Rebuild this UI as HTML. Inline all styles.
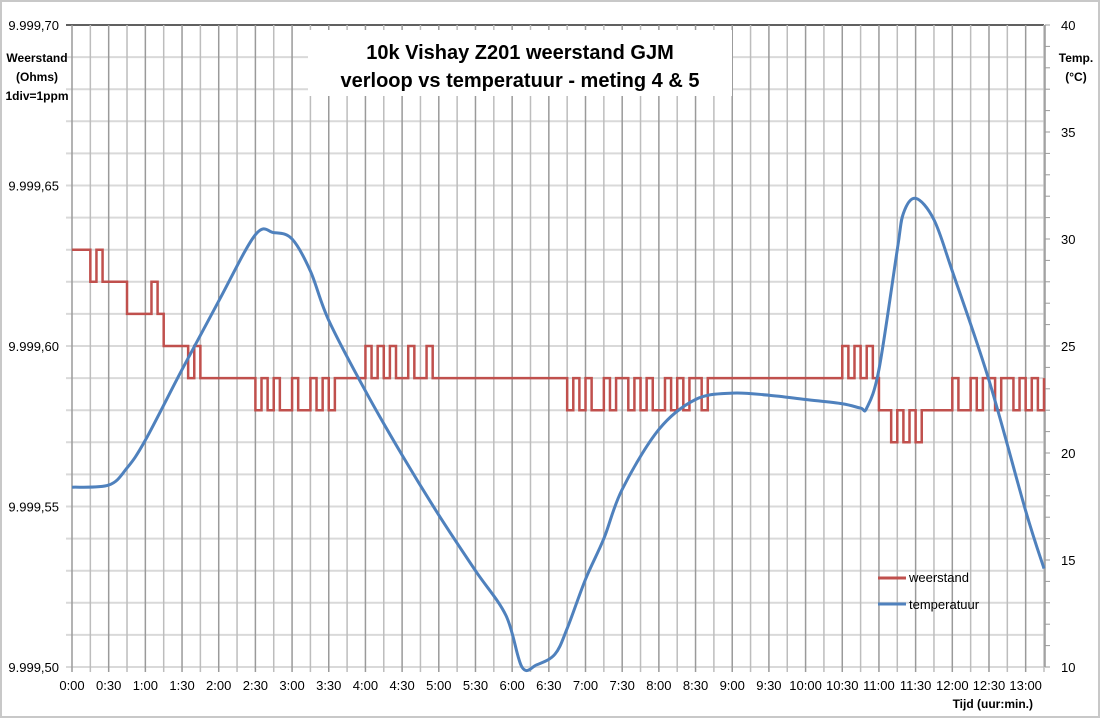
<!DOCTYPE html>
<html><head><meta charset="utf-8"><style>
body{margin:0;background:#fff;}
svg{display:block;font-family:"Liberation Sans",sans-serif;}
</style></head><body>
<svg id="chart" width="1100" height="718" viewBox="0 0 1100 718">
<rect x="1" y="1" width="1098" height="716" fill="#fff" stroke="#c8c8c8" stroke-width="2"/>
<g id="grid"></g>
<g id="axes"></g>
<g id="series"></g>
<rect x="308" y="30" width="424" height="66" fill="#fff"/>
<text x="520" y="59" text-anchor="middle" font-size="20" font-weight="bold">10k Vishay  Z201 weerstand GJM</text>
<text x="520" y="87" text-anchor="middle" font-size="20" font-weight="bold">verloop vs temperatuur  - meting 4 &amp; 5</text>
<g font-size="12" font-weight="bold" text-anchor="middle">
<text x="37" y="62">Weerstand</text><text x="37" y="81">(Ohms)</text><text x="37" y="100">1div=1ppm</text></g>
<g font-size="12" font-weight="bold" text-anchor="middle">
<text x="1076" y="62">Temp.</text><text x="1076" y="81">(°C)</text></g>
<text x="1033" y="708" text-anchor="end" font-size="12" font-weight="bold">Tijd (uur:min.)</text>
<g>
<line x1="878" y1="578" x2="906" y2="578" stroke="#c0504d" stroke-width="3"/>
<text x="909" y="582" font-size="13">weerstand</text>
<line x1="878" y1="604" x2="906" y2="604" stroke="#4f81bd" stroke-width="3"/>
<text x="909" y="609" font-size="13">temperatuur</text>
</g>
</svg>
<script>
// temperature series (minutes, °C)
const tempTimes=[0,30,45,60,90,120,150,165,180,195,210,240,270,300,330,355,368,380,395,405,420,435,450,480,510,540,570,600,630,645,650,660,675,680,690,705,720,750,780,795];
const tempValues=[18.4,18.5,19.3,20.6,23.9,27.1,30.2,30.3,30.0,28.5,26.2,22.9,19.9,17.1,14.5,12.4,10.0,10.1,10.6,11.8,14.1,16.0,18.3,21.1,22.5,22.8,22.7,22.5,22.3,22.1,22.1,23.9,29.5,31.2,31.9,30.9,28.5,23.4,17.3,14.6];
// resistance series: hundredths of ohm above 9.999,00 every 5 min from 0:00
const resStep=5;
const resValues=[63,63,63, 62,63,62, 62,62,62, 61,61,61,61,62,61, 60,60,60,60,59,60,
59,59,59,59,59,59,59,59,59,
58,59,58,59,58,58,59,58,58,59,58,59,58,59,
59,59,59,59,
60,59,60,59,60,59,59,60,59,59,60,59,
59,59,59,59,59,59,59,59,59,59,59,59,59,59,59,59,59,59,59,59,59,
58,59,58,59,58,58,59,58,59,59,58,59,58,59,58,58,59,58,59,58,59,59,58,59,
59,59,59,59,59,59,59,59,59,59,59,59,59,59,59,59,59,59,59,59,59,
60,59,60,59,60,59,
58,58,57,58,57,58,57,58,58,
58,58,58,59,58,58,59,58,59,
59,58,59,59,58,59,58,59,58,59];
const xTickLabels=["0:00","0:30","1:00","1:30","2:00","2:30","3:00","3:30","4:00","4:30","5:00","5:30","6:00","6:30","7:00","7:30","8:00","8:30","9:00","9:30","10:00","10:30","11:00","11:30","12:00","12:30","13:00"];
const leftTickLabels=["9.999,50","9.999,55","9.999,60","9.999,65","9.999,70"];
const rightTickLabels=["10","15","20","25","30","35","40"];

const NS="http://www.w3.org/2000/svg";
const X0=72,X1=1044,Y0=667,Y1=25,TMAX=795;
const xs=t=>X0+(X1-X0)*t/TMAX;
const yL=v=>Y0-(Y0-Y1)*(v-50)/20;
const yR=v=>Y0-(Y0-Y1)*(v-10)/30;
function mk(tag,attrs,parent,text){const e=document.createElementNS(NS,tag);for(const k in attrs)e.setAttribute(k,attrs[k]);if(text!==undefined)e.textContent=text;parent.appendChild(e);return e;}
const grid=document.getElementById('grid'),axes=document.getElementById('axes'),series=document.getElementById('series');
for(let i=0;i<=20;i++){const y=yL(50+i);
 const l=mk('line',{x1:X0-6,x2:X1,y1:y,y2:y,stroke:i==20?'#000':'#d9d9d9','stroke-width':i==20?1.3:2},grid);
 
 }
for(let t=15;t<=TMAX;t+=15){const x=xs(t);
 const l=mk('line',{x1:x,x2:x,y1:Y1,y2:Y0+5,stroke:(t%30==0)?'#9a9a9a':'#bdbdbd','stroke-width':1.5},grid);
 
 }
let a=mk('line',{x1:X0,x2:X0,y1:Y1,y2:Y0+5,stroke:'#9a9a9a','stroke-width':1.5},axes);


a=mk('line',{x1:X1+1,x2:X1+1,y1:Y1,y2:Y0,stroke:'#9a9a9a','stroke-width':1.5},axes);


for(let i=0;i<=30;i++){const y=yR(10+i);
 const l=mk('line',{x1:X1+1,x2:X1+6,y1:y,y2:y,stroke:'#9a9a9a','stroke-width':1},axes);
 
 }
xTickLabels.forEach((s,i)=>{const e=mk('text',{x:xs(i*30),y:690,'text-anchor':'middle','font-size':13},axes,s);
 
 });
leftTickLabels.forEach((s,i)=>{const e=mk('text',{x:59,y:yL(50+i*5)+5,'text-anchor':'end','font-size':13},axes,s);
 
 });
rightTickLabels.forEach((s,i)=>{const e=mk('text',{x:1061,y:yR(10+i*5)+5,'font-size':13},axes,s);
 
 });
let d='';resValues.forEach((v,i)=>{const x=xs(i*resStep),y=yL(v);
 if(i==0)d+='M'+x+' '+y;else d+=' H'+x+' V'+y;});
d+=' H'+xs(TMAX);
let p=mk('path',{d:d,fill:'none',stroke:'#c0504d','stroke-width':2.5},series);


let pts=tempTimes.map((t,i)=>[xs(t),yR(tempValues[i])]);
let dt='M'+pts[0][0]+' '+pts[0][1];
for(let i=0;i<pts.length-1;i++){const p0=pts[Math.max(0,i-1)],p1=pts[i],p2=pts[i+1],p3=pts[Math.min(pts.length-1,i+2)];
 const c1=[p1[0]+(p2[0]-p0[0])/6,p1[1]+(p2[1]-p0[1])/6],c2=[p2[0]-(p3[0]-p1[0])/6,p2[1]-(p3[1]-p1[1])/6];
 dt+=' C'+c1[0]+' '+c1[1]+' '+c2[0]+' '+c2[1]+' '+p2[0]+' '+p2[1];}
p=mk('path',{d:dt,fill:'none',stroke:'#4f81bd','stroke-width':3},series);


</script>
</body></html>
